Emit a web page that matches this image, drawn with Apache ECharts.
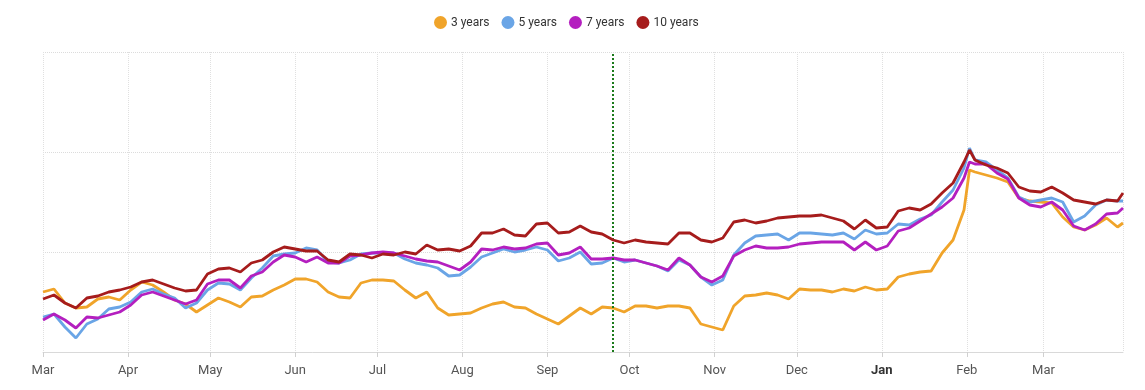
<!DOCTYPE html>
<html><head><meta charset="utf-8">
<script src="https://cdn.jsdelivr.net/npm/echarts@6/dist/echarts.min.js"></script>
<style>html,body{margin:0;padding:0;background:#fff}#c{width:1145px;height:390px}</style>
</head><body><div id="c"></div>
<script>
const dates = [
'2021-03-01','2021-03-05','2021-03-09','2021-03-13','2021-03-17','2021-03-21','2021-03-25','2021-03-29','2021-04-02','2021-04-06',
'2021-04-10','2021-04-14','2021-04-18','2021-04-22','2021-04-26','2021-04-30','2021-05-04','2021-05-08','2021-05-12','2021-05-16',
'2021-05-20','2021-05-24','2021-05-28','2021-06-01','2021-06-05','2021-06-09','2021-06-13','2021-06-17','2021-06-21','2021-06-25',
'2021-06-29','2021-07-03','2021-07-07','2021-07-11','2021-07-15','2021-07-19','2021-07-23','2021-07-27','2021-07-31','2021-08-04',
'2021-08-08','2021-08-12','2021-08-16','2021-08-20','2021-08-24','2021-08-28','2021-09-01','2021-09-05','2021-09-09','2021-09-13',
'2021-09-17','2021-09-21','2021-09-25','2021-09-29','2021-10-03','2021-10-07','2021-10-11','2021-10-15','2021-10-19','2021-10-23',
'2021-10-27','2021-10-31','2021-11-04','2021-11-08','2021-11-12','2021-11-16','2021-11-20','2021-11-24','2021-11-28','2021-12-02',
'2021-12-06','2021-12-10','2021-12-14','2021-12-18','2021-12-22','2021-12-26','2021-12-30','2022-01-03','2022-01-07','2022-01-11',
'2022-01-15','2022-01-19','2022-01-23','2022-01-27','2022-01-31','2022-02-02','2022-02-04','2022-02-08','2022-02-12','2022-02-16',
'2022-02-20','2022-02-24','2022-02-28','2022-03-04','2022-03-08','2022-03-12','2022-03-16','2022-03-20','2022-03-24','2022-03-28',
'2022-03-30'
];
const seriesNames = ['3 years', '5 years', '7 years', '10 years'];
const y3 = [
60,63,49,44,45,53,55,52,62,70, 67,60,52,48,40,47,54,50,45,55,
56,62,67,73,73,70,60,55,54,69, 72,72,71,62,54,60,44,37,38,39,
44,48,50,45,44,38,33,28,36,44, 38,45,44,40,46,46,44,46,46,44,
28,25,22,46,56,57,59,57,53,63, 62,62,60,63,61,65,62,63,75,78,
80,81,99,112,142,182,180,177,174,170, 154,151,150,149,135,125,122,127,134,125,
129
];
const y5 = [
35,38,25,14,28,33,43,45,50,60, 63,58,54,44,49,62,69,68,62,74,
84,96,98,99,104,102,90,89,92,98, 99,99,99,93,89,87,84,76,77,85,
95,99,103,100,102,105,102,91,94,100, 88,89,94,90,92,89,86,81,92,87,
75,67,72,97,109,116,117,118,112,119, 119,118,117,119,113,122,118,119,128,127,
133,137,150,162,184,204,192,190,182,174, 155,150,152,154,150,130,136,147,152,151,
151
];
const y7 = [
32,38,32,24,35,34,37,40,47,57, 60,56,52,48,52,68,72,72,64,76,
80,90,97,95,90,95,89,89,96,97, 99,100,99,96,93,91,90,86,82,90,
103,102,105,103,104,108,109,97,99,105, 93,93,94,92,92,89,86,82,94,87,
75,70,76,96,102,106,104,104,105,108, 109,110,110,110,102,110,102,106,121,124,
131,138,145,154,174,190,188,188,179,173, 154,147,145,150,142,126,122,128,138,139,
144
];
const y10 = [
53,57,49,44,54,56,60,62,65,70, 72,68,64,61,62,78,83,84,80,89,
92,100,105,103,101,101,92,90,98,97, 94,98,97,100,98,107,102,103,101,106,
119,119,123,117,116,128,129,119,120,126, 120,118,112,109,112,110,109,108,119,119,
112,110,114,130,132,129,131,134,135,136, 136,137,134,131,123,132,124,125,141,144,
142,148,159,169,190,202,192,187,184,179, 165,161,160,165,159,152,150,148,152,151,
159
];
const monthNames = ['Jan','Feb','Mar','Apr','May','Jun','Jul','Aug','Sep','Oct','Nov','Dec'];
const markerDate = '2021-09-25';
const colors = ['#f0a42a', '#6aa5e6', '#b41fbf', '#a61c1c'];
const allValues = [y3, y5, y7, y10];

const chart = echarts.init(document.getElementById('c'), null, {renderer: 'canvas'});
const series = seriesNames.map((name, i) => ({
  name: name,
  type: 'line',
  data: dates.map((d, k) => [d, allValues[i][k]]),
  showSymbol: false,
  symbol: 'none',
  lineStyle: {width: 2.8, color: colors[i]},
  itemStyle: {color: colors[i]},
  z: 2 + i,
  markLine: i === 0 ? {
    silent: true,
    symbol: 'none',
    label: {show: false},
    lineStyle: {type: 'dotted', color: '#1b7a1b', width: 2},
    data: [{xAxis: markerDate}]
  } : undefined
}));

chart.setOption({
  animation: false,
  textStyle: {fontFamily: 'Roboto, Arial, sans-serif'},
  legend: {
    top: 11, left: 429,
    icon: 'circle', itemWidth: 13, itemHeight: 13, itemGap: 12,
    textStyle: {fontSize: 12, color: '#333', padding: [0, 0, 0, -1]},
    data: seriesNames
  },
  grid: {left: 43, right: 22, top: 52, bottom: 38, containLabel: false},
  xAxis: {
    type: 'time',
    min: dates[0],
    max: dates[dates.length - 1],
    splitNumber: 13,
    minInterval: 28 * 86400000,
    maxInterval: 31 * 86400000,
    axisLine: {lineStyle: {color: '#d9d9d9', width: 1}},
    axisTick: {show: true, length: 5, lineStyle: {color: '#d0d0d0'}},
    splitLine: {show: true, lineStyle: {type: 'dotted', color: '#e0e0e0'}},
    axisLabel: {
      fontSize: 13, color: '#555', margin: 12,
      showMinLabel: true, showMaxLabel: false,
      formatter: function (val) {
        const d = new Date(val);
        const m = monthNames[d.getMonth()];
        return d.getMonth() === 0 ? '{b|' + m + '}' : m;
      },
      rich: {b: {fontWeight: 'bold', fontSize: 13, color: '#333'}}
    }
  },
  yAxis: {
    type: 'value', min: 0, max: 300, interval: 100,
    axisLabel: {show: false}, axisLine: {show: false}, axisTick: {show: false},
    splitLine: {show: true, lineStyle: {type: 'dotted', color: '#dcdcdc'}}
  },
  series: series
});
</script>
</body></html>
